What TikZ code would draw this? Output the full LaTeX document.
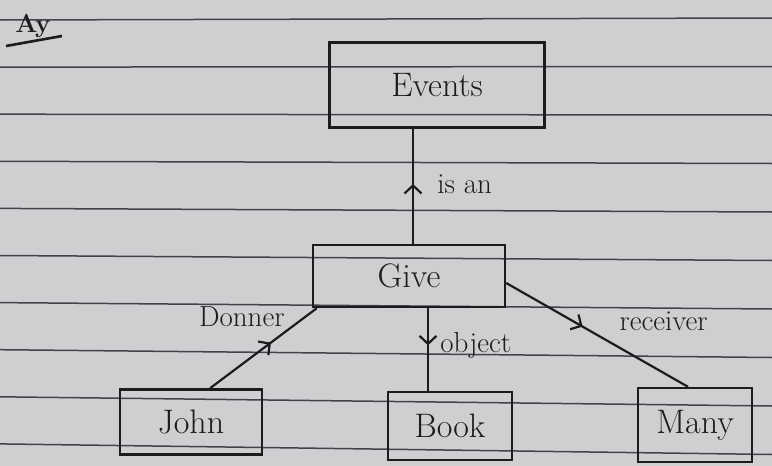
\documentclass[tikz,border=0pt]{standalone}
\definecolor{papel}{RGB}{207, 207, 210}
\definecolor{regla}{RGB}{68, 68, 72}
\definecolor{tinta}{RGB}{28, 28, 30}
\usepackage{tikz}
\usetikzlibrary{arrows.meta, positioning, decorations.markings}

\begin{document}
\begin{tikzpicture}[
          x=1pt, y=-1pt,
          box/.style={draw=tinta, line width=2.4pt, rectangle, text=tinta,
                      font=\fontsize{34}{38}\selectfont, inner sep=0pt},
          rel/.style={tinta, line width=2.2pt, postaction={decorate},
                      decoration={markings, mark=at position #1 with
                      {\arrow{Straight Barb[length=8pt, width=17pt, line width=2.2pt]}}}},
          etiqueta/.style={text=tinta, font=\fontsize{29}{32}\selectfont}
        ]
        % hoja rayada
        \fill[papel] (0,0) rectangle (772,466);
        \useasboundingbox (0,0) rectangle (772,466);
        \foreach \i in {0,...,9}
          \draw[regla, line width=1.5pt] (0,20+47.1*\i) -- (772,18+48.5*\i);

        \node[text=tinta, font=\fontsize{26}{28}\selectfont\bfseries] (ay) at (33,26) {Ay};
        \draw[tinta, line width=2.6pt] (6,46) -- (62,36);

        \node[box, minimum width=215pt, minimum height=85pt] (events) at (437,85) {Events};
        \node[box, minimum width=192pt, minimum height=62pt] (give) at (409,276) {Give};
        \node[box, minimum width=142pt, minimum height=65pt] (john) at (191,422) {John};
        \node[box, minimum width=124pt, minimum height=68pt] (book) at (450,426) {Book};
        \node[box, minimum width=114pt, minimum height=74pt] (many) at (695,425) {Many};

        \draw[rel=0.52] ([xshift=4pt]give.north) -- ([xshift=4pt]give.north |- events.south)
          node[etiqueta, pos=0.52, anchor=west, xshift=20pt] {is an};
        \draw[rel=0.57] ([xshift=19pt]john.north) -- ([xshift=5pt]give.south west)
          node[etiqueta, pos=0.74, anchor=east, yshift=12pt] {Donner};
        \draw[rel=0.45] ([xshift=19pt]give.south) -- ([xshift=19pt]give.south |- book.north)
          node[etiqueta, pos=0.45, anchor=west, xshift=8pt] {object};
        \draw[rel=0.42] ([yshift=-7pt]give.east) -- ([xshift=-7pt]many.north)
          node[etiqueta, pos=0.5, anchor=south west, xshift=18pt] {receiver};
      \end{tikzpicture}
\end{document}
